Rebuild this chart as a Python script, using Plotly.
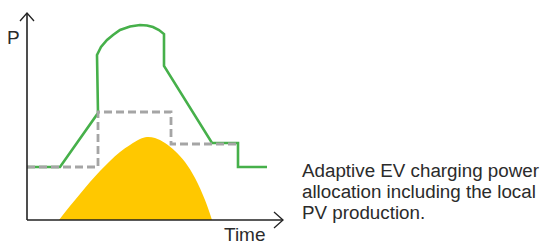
import plotly.graph_objects as go

# Time axis units (1 unit ~ 1 px), power units
load_t = [0, 33, 71, 70, 74, 80, 86, 93, 103, 113, 120, 126, 132, 137, 137, 185, 211, 211, 240]
load_p = [53, 53, 107, 165, 173, 180, 185, 190, 193.5, 195, 194.5, 193, 190, 186, 154, 77, 77, 53, 53]

alloc_t = [0, 71, 71, 144, 144, 211]
alloc_p = [53, 53, 108, 108, 76, 76]

pv_t = [32, 43, 53, 63, 73, 83, 93, 103, 113, 120, 128, 138, 148, 158, 168, 178, 185]
pv_p = [0, 14, 26, 38, 49, 59, 68, 75, 81, 83, 82, 77, 69, 58, 42, 20, 0]

GREEN = "#46B04A"
GRAY = "#A5A5A5"
YELLOW = "#FFC800"
AXIS = "#222222"
TEXT = "#2b2b2b"
FONT = "Liberation Sans"

fig = go.Figure()
fig.add_trace(go.Scatter(x=pv_t, y=pv_p, mode="lines", fill="tozeroy",
                         fillcolor=YELLOW, line=dict(color=YELLOW, width=0, shape="spline"),
                         hoverinfo="skip"))
fig.add_trace(go.Scatter(x=load_t, y=load_p, mode="lines",
                         line=dict(color=GREEN, width=2.6), hoverinfo="skip"))
fig.add_trace(go.Scatter(x=alloc_t, y=alloc_p, mode="lines",
                         line=dict(color=GRAY, width=2.8, dash="8px,4px"), hoverinfo="skip"))

shapes = [
    dict(type="line", x0=0, y0=0, x1=0, y1=207, xref="x", yref="y", line=dict(color=AXIS, width=1.6)),
    dict(type="path", path="M -7,199 L 0,207 L 7,199", xref="x", yref="y", line=dict(color=AXIS, width=1.3)),
    dict(type="line", x0=0, y0=0, x1=256, y1=0, xref="x", yref="y", line=dict(color=AXIS, width=1.6)),
    dict(type="path", path="M 247,8 L 256,0 L 247,-8", xref="x", yref="y", line=dict(color=AXIS, width=1.3)),
]

ann = [
    dict(x=-14, y=183, text="P", showarrow=False, xanchor="center", yanchor="middle",
         font=dict(family=FONT, size=19, color=TEXT)),
    dict(x=218, y=-14.5, text="Time", showarrow=False, xanchor="center", yanchor="middle",
         font=dict(family=FONT, size=19, color=TEXT)),
]
lines = ["Adaptive EV charging power", "allocation including the local", "PV production."]
ys = [49.5, 29, 8]
for t, yv in zip(lines, ys):
    ann.append(dict(x=274, y=yv, text=t, showarrow=False, xanchor="left", yanchor="middle",
                    borderpad=0, font=dict(family=FONT, size=18.8, color=TEXT)))

fig.update_layout(
    width=550, height=244,
    margin=dict(l=0, r=0, t=0, b=0, pad=0),
    paper_bgcolor="white", plot_bgcolor="white",
    showlegend=False,
    xaxis=dict(range=[-19, 531], visible=False, fixedrange=True),
    yaxis=dict(range=[-32, 212], visible=False, fixedrange=True),
    shapes=shapes, annotations=ann,
)
fig.write_html("out.html", config=dict(displayModeBar=False))
